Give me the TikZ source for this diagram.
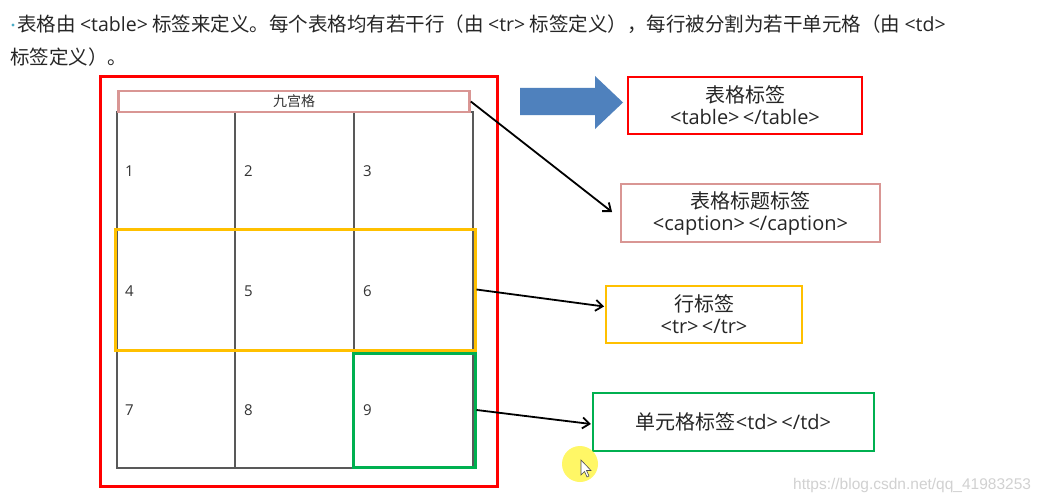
\documentclass[tikz,border=0pt]{standalone}
\usepackage{fontspec}
\setmainfont{Noto Sans CJK SC}
\newfontfamily\wmfont{Liberation Sans}
\newfontfamily\latf{Open Sans}
\usetikzlibrary{arrows.meta}
\definecolor{cRed}{HTML}{FF0000}
\definecolor{cPink}{HTML}{D99694}
\definecolor{cYel}{HTML}{FFC000}
\definecolor{cGrn}{HTML}{00B050}
\definecolor{cBlue}{HTML}{4F81BD}
\definecolor{cGrid}{HTML}{595959}
\definecolor{cBul}{HTML}{4BACC6}
\tikzset{
  hdr/.style={anchor=base west, inner sep=0pt, font=\fontsize{19.5}{21}\selectfont, text=black!85},
  lbl/.style={draw, line width=2.2pt, align=center, inner sep=0pt, font=\fontsize{20}{22}\selectfont, text=black!85},
  num/.style={anchor=west, inner sep=0pt, font=\latf\fontsize{15}{17}\selectfont, text=black!80},
  gridline/.style={cGrid, line width=1.4pt},
  conn/.style={black, line width=1.8pt, -{Straight Barb[length=7pt,width=11pt,line width=1.8pt]}},
}
\begin{document}
\begin{tikzpicture}[x=1pt,y=-1pt]
\useasboundingbox (0,0) rectangle (1045,503);
\fill[white] (0,0) rectangle (1045,503);
% header
\node[circle, fill=cBul, inner sep=1.2pt] (bul) at (13,25) {};
\node[hdr] (h1) at (17,32) {表格由 {\latf <table>} 标签来定义。每个表格均有若干行（由 {\latf <tr>} 标签定义），每行被分割为若干单元格（由 {\latf <td>}};
\node[hdr] (h2) at (10,65) {标签定义）。};
% outer red
\draw[cRed, line width=3pt] (100,77) rectangle (497,486);
% grid
\draw[gridline] (117,112) rectangle (473,468);
\draw[gridline] (235,112) -- (235,468);
\draw[gridline] (354,112) -- (354,468);
\draw[gridline] (117,230) -- (473,230);
\draw[gridline] (117,350) -- (473,350);
% caption box
\node[draw=cPink, line width=2.6pt, minimum width=351pt, minimum height=21pt, inner sep=0pt, font=\fontsize{14}{16}\selectfont, text=black!80] (cap) at (294,101.5) {九宫格};
% numbers
\node[num] (n1) at (125,171) {1};
\node[num] (n2) at (244,171) {2};
\node[num] (n3) at (363,171) {3};
\node[num] (n4) at (125,291) {4};
\node[num] (n5) at (244,291) {5};
\node[num] (n6) at (363,291) {6};
\node[num] (n7) at (125,410) {7};
\node[num] (n8) at (244,410) {8};
\node[num] (n9) at (363,410) {9};
% row and cell highlight
\node[draw=cYel, line width=3pt, minimum width=360pt, minimum height=121pt, inner sep=0pt] (row) at (295,289.5) {};
\node[draw=cGrn, line width=3pt, minimum width=122pt, minimum height=114pt, inner sep=0pt] (cell) at (414,410) {};
% block arrow
\fill[cBlue] (520,88) -- (595,88) -- (595,76) -- (623,102.5) -- (595,129) -- (595,115) -- (520,115) -- cycle;
% labels
\node[lbl, draw=cRed, minimum width=234pt, minimum height=57pt] (ltable) at (745,105.5) {表格标签\\{\latf <table>\,</table>}};
\node[lbl, draw=cPink, line width=1.8pt, minimum width=259pt, minimum height=58pt] (lcap) at (750.5,213) {表格标题标签\\{\latf <caption>\,</caption>}};
\node[lbl, draw=cYel, line width=2pt, minimum width=196pt, minimum height=57pt] (lrow) at (704,314.5) {行标签\\{\latf <tr>\,</tr>}};
\node[lbl, draw=cGrn, minimum width=281pt, minimum height=58pt] (lcell) at (733.5,422) {单元格标签{\latf <td>\,</td>}};
% connectors
\draw[conn] (cap.east) -- ([xshift=-8pt,yshift=1pt]lcap.west);
\draw[conn] (row.east) -- ([xshift=-1pt,yshift=8pt]lrow.west);
\draw[conn] (cell.east) -- ([xshift=-1pt,yshift=-2pt]lcell.west);
% cursor highlight
\fill[yellow!75!white, opacity=0.8] (580,464) circle (18);
\draw[black!70, fill=white, line width=0.6pt] (581,460) -- (581,475) -- (584.5,471.5) -- (587,477) -- (589,476) -- (586.5,470.5) -- (591,470.5) -- cycle;
% watermark
\node[anchor=west, inner sep=0pt, font=\wmfont\fontsize{15.5}{17}\selectfont, text=black!18] (wm) at (793,485) {https://blog.csdn.net/qq\_41983253};
\end{tikzpicture}
\end{document}
